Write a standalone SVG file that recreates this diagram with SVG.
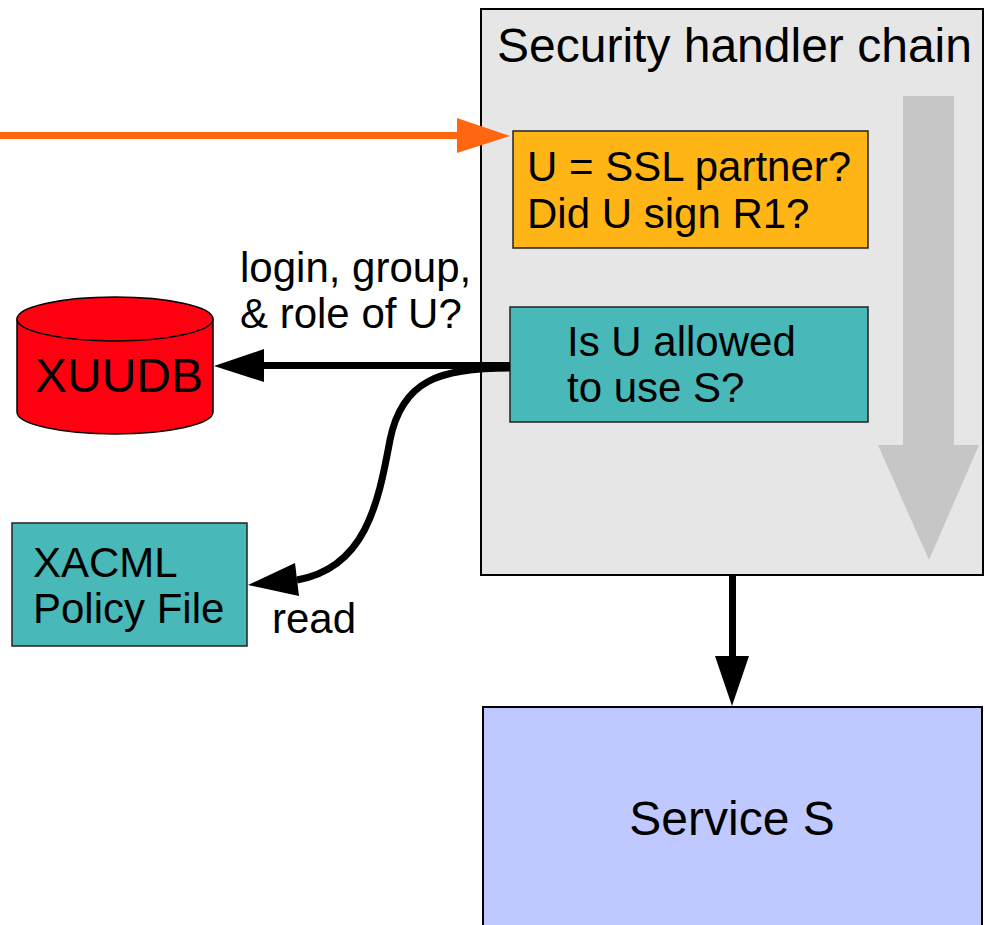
<svg xmlns="http://www.w3.org/2000/svg" width="985" height="925" viewBox="0 0 985 925">
  <style>
    text { font-family: "Liberation Sans", Arial, sans-serif; fill: #000; }
    .t42 { font-size: 42px; }
    .t48 { font-size: 48px; }
    .box { stroke: #222; stroke-width: 1.5; }
    .teal { fill: #48b8b8; }
    .wire { fill: none; stroke: #000; stroke-width: 7; }
    .head { fill: #000; stroke: none; }
  </style>
  <rect width="985" height="925" fill="#fff"/>

  <!-- Security handler chain container -->
  <g id="chain">
    <rect x="481" y="9" width="502" height="566" fill="#e6e6e6" stroke="#000" stroke-width="2"/>
    <text class="t48" x="497" y="62">Security handler chain</text>
    <!-- processing order indicator -->
    <polygon points="903,96 954,96 954,445 979,445 929,560 878,445 903,445" fill="#c6c6c6"/>
  </g>

  <g id="ssl-check">
    <rect class="box" x="513" y="131" width="355" height="117" fill="#ffb515"/>
    <text class="t42" x="527" y="181">U = SSL partner?</text>
    <text class="t42" x="527" y="228">Did U sign R1?</text>
  </g>

  <g id="authz-check">
    <rect class="box teal" x="510" y="307" width="358" height="115"/>
    <text class="t42" x="567" y="356">Is U allowed</text>
    <text class="t42" x="567" y="402">to use S?</text>
  </g>

  <g id="xuudb">
    <path d="M17,319 L17,412 A98,22 0 0 0 213,412 L213,319" fill="#ff0011" stroke="#000" stroke-width="1.5"/>
    <ellipse cx="115" cy="319" rx="98" ry="22" fill="#ff0011" stroke="#000" stroke-width="1.5"/>
    <text class="t48" x="119" y="392" text-anchor="middle">XUUDB</text>
  </g>

  <g id="xacml">
    <rect class="box teal" x="12" y="523" width="235" height="123"/>
    <text class="t42" x="33" y="577">XACML</text>
    <text class="t42" x="33" y="623">Policy File</text>
  </g>

  <g id="service">
    <rect x="483" y="707" width="499" height="230" fill="#bfc8ff" stroke="#000" stroke-width="2"/>
    <text class="t48" x="732" y="835" text-anchor="middle">Service S</text>
  </g>

  <g id="connectors">
    <!-- incoming request -->
    <line x1="0" y1="135.5" x2="460" y2="135.5" stroke="#ff6611" stroke-width="7"/>
    <polygon points="457,118 510,136 457,153" fill="#ff6611"/>

    <!-- attribute lookup -->
    <line class="wire" x1="510" y1="365.5" x2="260" y2="365.5"/>
    <polygon class="head" points="214,366 264,349 264,382"/>
    <text class="t42" x="240" y="282">login, group,</text>
    <text class="t42" x="240" y="328">&amp; role of U?</text>

    <!-- policy read -->
    <path class="wire" d="M510,368 C440,368 402,380 390,440 C378,505 365,568 297,580"/>
    <polygon class="head" points="248,585 295,563 299,596"/>
    <text class="t42" x="272" y="633">read</text>

    <!-- hand-off to service -->
    <line class="wire" x1="732.5" y1="575" x2="732.5" y2="660"/>
    <polygon class="head" points="715,656 749,656 732,706"/>
  </g>
</svg>
